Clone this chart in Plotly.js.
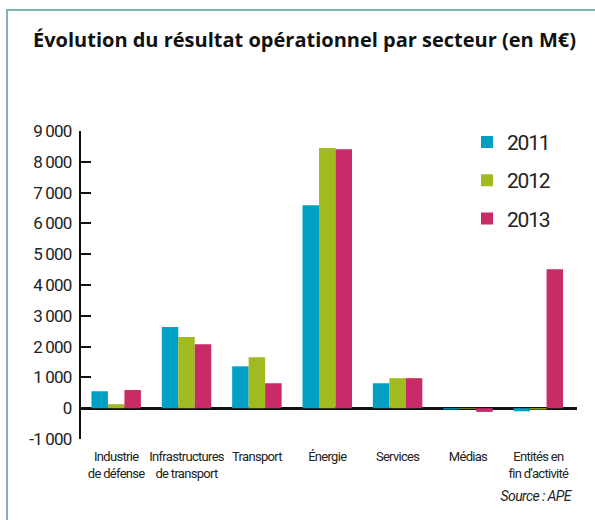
<!DOCTYPE html>
<html>
<head>
<meta charset="utf-8">
<script src="https://cdn.plot.ly/plotly-3.0.1.min.js"></script>
<style>
  html, body { margin: 0; padding: 0; background: #fff; }
  #wrap { position: relative; width: 595px; height: 520px; }
  #frame { position: absolute; left: 6px; top: 9px; width: 600px; height: 520px;
           border-left: 2px solid #7fb3b8; border-top: 2px solid #7fb3b8; box-sizing: border-box; }
  #chart { position: absolute; left: 0; top: 0; width: 595px; height: 520px; }
  #chart .xtick text { letter-spacing: -0.7px; }
  #chart .ytick text { letter-spacing: -0.8px; }
  #chart .legendtext { letter-spacing: -1.2px; }
  #chart .annotation-text { letter-spacing: -0.6px; }
</style>
</head>
<body>
<div id="wrap">
  <div id="frame"></div>
  <div id="chart"></div>
</div>
<script>
const categories = [
  "Industrie<br>de défense",
  "Infrastructures<br>de transport",
  "Transport",
  "Énergie",
  "Services",
  "Médias",
  "Entités en<br>fin d’activité"
];
const years = ["2011", "2012", "2013"];
const values2011 = [550, 2640, 1360, 6590, 810, -40, -100];
const values2012 = [130, 2315, 1655, 8450, 975, -20, -40];
const values2013 = [590, 2080, 810, 8410, 975, -120, 4510];
const colors = ["#00a0c4", "#a0bb1f", "#c82b67"];
const yTickVals = [-1000, 0, 1000, 2000, 3000, 4000, 5000, 6000, 7000, 8000, 9000];
const yTickText = ["-1 000", "0", "1 000", "2 000", "3 000", "4 000", "5 000", "6 000", "7 000", "8 000", "9 000"];

const narrow = 'Roboto, "Noto Sans", sans-serif';
const series = [values2011, values2012, values2013];
const traces = series.map((vals, i) => ({
  type: 'bar',
  x: categories,
  y: vals,
  name: years[i],
  legendgroup: years[i],
  marker: { color: colors[i], line: { width: 0 } },
  hoverinfo: 'skip'
}));

const layout = {
  width: 595, height: 520,
  margin: { l: 81, r: 18, t: 131, b: 81, pad: 0 },
  paper_bgcolor: 'rgba(0,0,0,0)',
  plot_bgcolor: 'rgba(0,0,0,0)',
  barmode: 'group',
  bargap: 0.297,
  bargroupgap: 0,
  showlegend: true,
  title: {
    text: 'Évolution du résultat opérationnel par secteur (en M€)',
    font: { family: '"Open Sans", Lato, sans-serif', size: 20, color: '#111', weight: 700 },
    xref: 'container', x: 33 / 595, xanchor: 'left',
    yref: 'container', y: 1 - 40 / 520, yanchor: 'middle'
  },
  xaxis: {
    type: 'category',
    range: [-0.5, 6.55],
    showline: false, showgrid: false, zeroline: false,
    ticks: '', ticklabelstandoff: 8, tickangle: 0,
    tickfont: { family: narrow, size: 13, color: '#222' },
    fixedrange: true
  },
  yaxis: {
    range: [-1000, 9000],
    tickvals: yTickVals, ticktext: yTickText,
    showline: true, linecolor: '#111', linewidth: 2,
    ticks: 'inside', ticklen: 10, tickwidth: 2, tickcolor: '#111',
    showgrid: false,
    zeroline: true, zerolinecolor: '#111', zerolinewidth: 3,
    tickfont: { family: narrow, size: 17, color: '#222' },
    ticklabelstandoff: 4,
    fixedrange: true
  },
  legend: {
    x: (467 - 81) / 496, xanchor: 'left',
    y: 1.03, yanchor: 'top',
    traceorder: 'grouped',
    tracegroupgap: 8,
    font: { family: narrow, size: 21, color: '#222' },
    bgcolor: 'rgba(0,0,0,0)',
    itemwidth: 30
  },
  annotations: [{
    text: '<i>Source : APE</i>',
    xref: 'paper', yref: 'paper',
    x: (578 - 81) / 496, xanchor: 'right',
    y: (439 - 496) / 308, yanchor: 'middle',
    showarrow: false,
    font: { family: narrow, size: 14, color: '#222' }
  }]
};

Plotly.newPlot('chart', traces, layout, { staticPlot: true, displayModeBar: false });
</script>
</body>
</html>
